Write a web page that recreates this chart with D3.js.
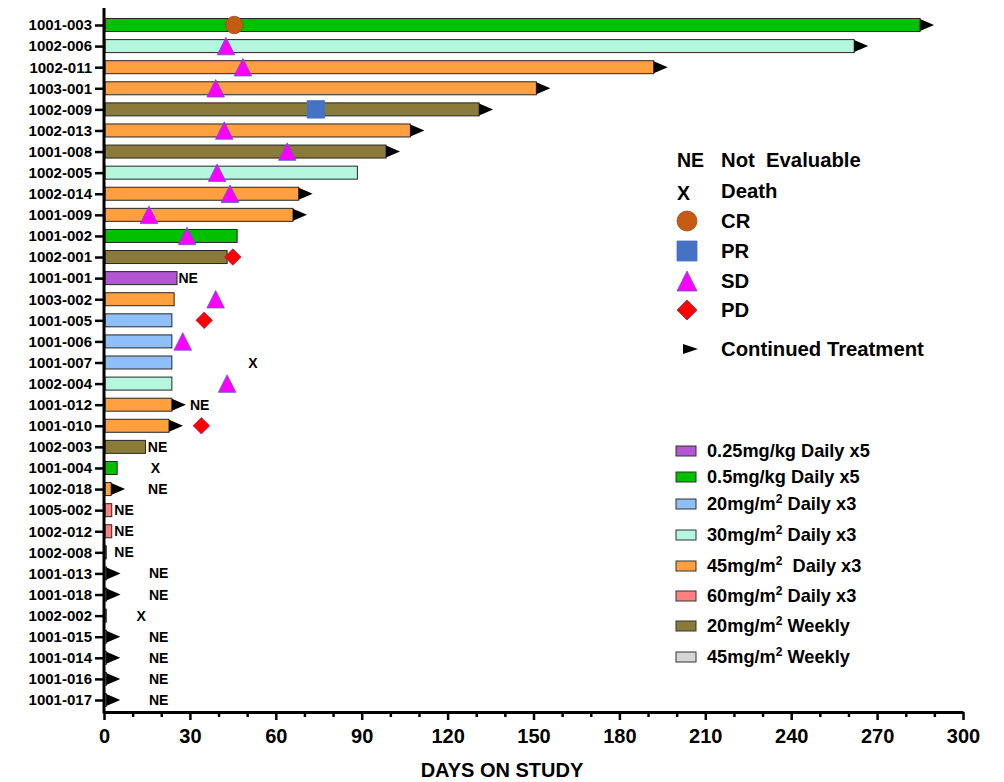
<!DOCTYPE html>
<html>
<head>
<meta charset="utf-8">
<script src="https://cdn.jsdelivr.net/npm/d3@7"></script>
<style>
  body { margin: 0; background: #fff; }
  svg text { font-family: Arial, "Liberation Sans", sans-serif; font-weight: bold; fill: #000; white-space: pre; }
</style>
</head>
<body>
<script>
// patients, top to bottom
var patients = ['1001-003','1002-006','1002-011','1003-001','1002-009','1002-013','1001-008','1002-005','1002-014','1001-009',
  '1001-002','1002-001','1001-001','1003-002','1001-005','1001-006','1001-007','1002-004','1001-012','1001-010',
  '1002-003','1001-004','1002-018','1005-002','1002-012','1002-008','1001-013','1001-018','1002-002','1001-015',
  '1001-014','1001-016','1001-017'];
// days on study (bar length)
var days = [285, 262, 192, 151, 131, 107, 98.5, 88.5, 68, 66,
  46.5, 43, 25.5, 24.5, 23.7, 23.7, 23.7, 23.7, 23.7, 22.7,
  14.5, 4.6, 2.5, 2.7, 2.7, 0.8, 0.9, 0.9, 0.8, 0.8,
  0.8, 0.8, 0.8];
// dose group index for each patient (see doseNames)
var doseGroup = [1, 3, 4, 4, 6, 4, 6, 3, 4, 4,
  1, 6, 0, 4, 2, 2, 2, 3, 4, 4,
  6, 1, 4, 5, 5, 6, 6, 6, 6, 7,
  7, 7, 7];
// 1 = continued treatment (arrow)
var continued = [1, 1, 1, 1, 1, 1, 1, 0, 1, 1,
  0, 0, 0, 0, 0, 0, 0, 0, 1, 1,
  0, 0, 1, 0, 0, 0, 1, 1, 0, 1,
  1, 1, 1];

var doseNames = ['0.25mg/kg Daily x5', '0.5mg/kg Daily x5', '20mg/m|2| Daily x3', '30mg/m|2| Daily x3',
  '45mg/m|2|  Daily x3', '60mg/m|2| Daily x3', '20mg/m|2| Weekly', '45mg/m|2| Weekly'];
var doseColors = ['#b455d4', '#00c000', '#8fbff8', '#b4f6de', '#ffa040', '#ff8080', '#8b7b3a', '#d6d6d6'];

// best response markers
var responseIds  = ['1001-003','1002-006','1002-011','1003-001','1002-009','1002-013','1001-008','1002-005','1002-014','1001-009',
  '1001-002','1002-001','1003-002','1001-005','1001-006','1002-004','1001-010'];
var responseType = ['CR','SD','SD','SD','PR','SD','SD','SD','SD','SD',
  'SD','PD','SD','PD','SD','SD','PD'];
var responseDay  = [45.5, 42.6, 48.5, 39, 74, 42, 64, 39.5, 44, 15.7,
  29, 45, 39, 35, 27.5, 43, 34];

// not evaluable labels (day where label starts)
var neIds = ['1001-001','1001-012','1002-003','1002-018','1005-002','1002-012','1002-008','1001-013','1001-018','1001-015','1001-014','1001-016','1001-017'];
var neDay = [26, 30, 15.3, 15.4, 3.6, 3.6, 3.6, 15.7, 15.7, 15.7, 15.7, 15.7, 15.7];

// deaths
var deathIds = ['1001-007','1001-004','1002-002'];
var deathDay = [52, 18, 13];

var xTicks = d3.range(0, 301, 30);
var xMinorTicks = d3.range(0, 301, 10).filter(function (d) { return d % 30 !== 0; });

var symbolFill = { CR: '#c55a11', PR: '#4472c4', SD: '#ff00ff', PD: '#ff0000' };
var symbolStroke = { CR: '#9a4a20', PR: '#4472c4', SD: '#5b5bc8', PD: '#a02060' };

function symbolPath(type, s) {
  // s = full width of the symbol
  var h = s / 2;
  if (type === 'SD') return 'M0,' + (-h) + 'L' + h + ',' + h + 'L' + (-h) + ',' + h + 'Z';
  if (type === 'PD') return 'M0,' + (-h) + 'L' + h + ',0L0,' + h + 'L' + (-h) + ',0Z';
  if (type === 'PR') return 'M' + (-h) + ',' + (-h) + 'H' + h + 'V' + h + 'H' + (-h) + 'Z';
  return d3.arc()({ innerRadius: 0, outerRadius: h, startAngle: 0, endAngle: 2 * Math.PI });
}

function superText(sel, label) {
  // label parts split by | : text, superscript, text
  var parts = label.split('|');
  sel.append('tspan').text(parts[0]);
  if (parts.length > 1) {
    sel.append('tspan').attr('font-size', '12px').attr('dy', -7).text(parts[1]);
    sel.append('tspan').attr('dy', 7).text(parts[2]);
  }
}

var W = 1004, H = 782;
var svg = d3.select('body').append('svg').attr('width', W).attr('height', H);

var x = d3.scaleLinear().domain([0, 300]).range([104, 963]);
var y = d3.scalePoint().domain(patients).range([25, 700]);
var barH = 13;

// bars
svg.append('g').selectAll('rect').data(patients).join('rect')
  .attr('x', x(0) + 1)
  .attr('y', function (d) { return y(d) - barH / 2; })
  .attr('width', function (d, i) { return Math.max(1, x(days[i]) - x(0) - 1); })
  .attr('height', barH)
  .attr('fill', function (d, i) { return doseColors[doseGroup[i]]; })
  .attr('stroke', '#262626')
  .attr('stroke-width', 1);

// continued treatment arrows
svg.append('g').selectAll('path').data(patients.filter(function (d, i) { return continued[i]; })).join('path')
  .attr('transform', function (d) { return 'translate(' + x(days[patients.indexOf(d)]) + ',' + y(d) + ')'; })
  .attr('d', 'M0,-6L14,0L0,6Z')
  .attr('fill', '#000');

// NE labels
svg.append('g').selectAll('text').data(neIds).join('text')
  .attr('x', function (d, i) { return x(neDay[i]); })
  .attr('y', function (d) { return y(d); })
  .attr('dy', '0.36em')
  .attr('font-size', '14px')
  .text('NE');

// deaths
svg.append('g').selectAll('text').data(deathIds).join('text')
  .attr('x', function (d, i) { return x(deathDay[i]); })
  .attr('y', function (d) { return y(d); })
  .attr('dy', '0.36em')
  .attr('text-anchor', 'middle')
  .attr('font-size', '14px')
  .text('X');

// response markers
svg.append('g').selectAll('path').data(responseIds).join('path')
  .attr('transform', function (d, i) { return 'translate(' + x(responseDay[i]) + ',' + y(d) + ')'; })
  .attr('d', function (d, i) { return symbolPath(responseType[i], responseType[i] === 'PD' ? 16.5 : 17.5); })
  .attr('fill', function (d, i) { return symbolFill[responseType[i]]; })
  .attr('stroke', function (d, i) { return symbolStroke[responseType[i]]; })
  .attr('stroke-width', 0.8);

// x axis, major + minor ticks
var xAxis = svg.append('g').attr('transform', 'translate(0,712)')
  .call(d3.axisBottom(x).tickValues(xTicks).tickSize(8).tickSizeOuter(0).tickPadding(9));
xAxis.select('.domain').attr('stroke-width', 3);
xAxis.selectAll('.tick line').attr('stroke-width', 2.5);
xAxis.selectAll('.tick text').attr('font-size', '20px').attr('font-family', null);
var xMinor = svg.append('g').attr('transform', 'translate(0,712)')
  .call(d3.axisBottom(x).tickValues(xMinorTicks).tickSize(5).tickSizeOuter(0).tickFormat(''));
xMinor.select('.domain').remove();
xMinor.selectAll('.tick line').attr('stroke-width', 2.5);

svg.append('text').attr('x', 502).attr('y', 777).attr('text-anchor', 'middle')
  .attr('font-size', '20px').text('DAYS ON STUDY');

// y axis
var yAxis = svg.append('g').attr('transform', 'translate(' + x(0) + ',0)')
  .call(d3.axisLeft(y).tickSize(9).tickPadding(3).tickSizeOuter(0));
yAxis.select('.domain').remove();
yAxis.selectAll('.tick line').attr('stroke-width', 2.5);
yAxis.selectAll('.tick text').attr('font-size', '15px').attr('font-family', null);
yAxis.append('line').attr('y1', 8).attr('y2', 713.5).attr('stroke', '#000').attr('stroke-width', 3);

// legend: response symbols
var legSym = svg.append('g').attr('transform', 'translate(677,0)');
var legRows = [
  { y: 160, key: 'NE', label: 'Not  Evaluable' },
  { y: 191, key: 'X', label: 'Death' },
  { y: 221, key: 'CR', label: 'CR' },
  { y: 251, key: 'PR', label: 'PR' },
  { y: 281, key: 'SD', label: 'SD' },
  { y: 310, key: 'PD', label: 'PD' },
  { y: 349, key: 'CT', label: 'Continued Treatment' }
];
legRows.forEach(function (r) {
  if (r.key === 'NE' || r.key === 'X') {
    legSym.append('text').attr('x', 0).attr('y', r.y + (r.key === 'X' ? 2 : 0)).attr('dy', '0.36em')
      .attr('font-size', '19.5px').text(r.key);
  } else if (r.key === 'CT') {
    legSym.append('path').attr('transform', 'translate(6,' + r.y + ')').attr('d', 'M0,-5L15,0L0,5Z').attr('fill', '#000');
  } else {
    legSym.append('path').attr('transform', 'translate(10,' + r.y + ')')
      .attr('d', symbolPath(r.key, 20))
      .attr('fill', symbolFill[r.key]).attr('stroke', symbolStroke[r.key]).attr('stroke-width', 0.8);
  }
  legSym.append('text').attr('x', 44).attr('y', r.y).attr('dy', '0.36em').attr('font-size', '20.3px').text(r.label);
});

// legend: dose groups
var legDoseY = [451, 477, 504, 535, 566, 596, 626, 657];
var legDose = svg.append('g').attr('transform', 'translate(676,0)');
doseNames.forEach(function (name, i) {
  legDose.append('rect').attr('x', 0).attr('y', legDoseY[i] - 5).attr('width', 20).attr('height', 10)
    .attr('fill', doseColors[i]).attr('stroke', '#333').attr('stroke-width', 1);
  var t = legDose.append('text').attr('x', 31).attr('y', legDoseY[i] + 6).attr('font-size', '18.2px');
  superText(t, name);
});
</script>
</body>
</html>
